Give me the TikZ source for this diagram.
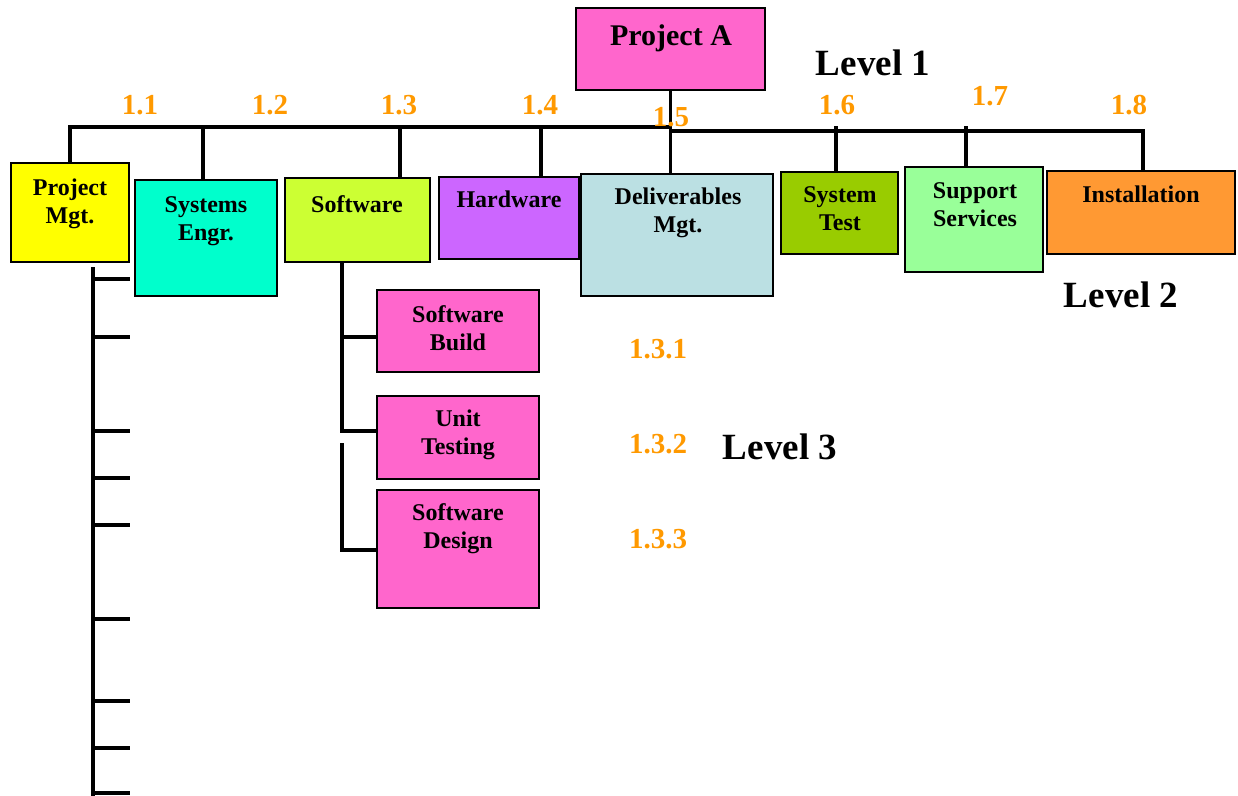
\documentclass[tikz,border=0pt]{standalone}
\usepackage{fontspec}
\setmainfont{Liberation Serif}
\definecolor{cPA}{HTML}{FF66CC}
\definecolor{cPM}{HTML}{FFFF00}
\definecolor{cSE}{HTML}{00FFCC}
\definecolor{cSW}{HTML}{CCFF33}
\definecolor{cHW}{HTML}{CC66FF}
\definecolor{cDM}{HTML}{BBE0E3}
\definecolor{cST}{HTML}{99CC00}
\definecolor{cSS}{HTML}{99FF99}
\definecolor{cIN}{HTML}{FF9933}
\definecolor{numorange}{HTML}{FF9900}
\begin{document}
\begin{tikzpicture}[x=1pt,y=-1pt,
  box/.style={draw=black, line width=1.8pt, anchor=north west, inner sep=0pt, outer sep=0pt},
  lbl/.style={font=\fontsize{24}{28}\selectfont\bfseries, align=center, inner sep=0pt, anchor=north},
  num/.style={font=\fontsize{29}{34}\selectfont\bfseries, text=numorange, inner sep=0pt, anchor=base},
  lvl/.style={font=\fontsize{37}{44}\selectfont\bfseries, inner sep=0pt, anchor=base},
  conn/.style={line width=3.2pt}]
\useasboundingbox (0,0) rectangle (1238,795);
% boxes
\node[box, fill=cPA, minimum width=189pt, minimum height=82pt] (pa) at (576,8) {};
\node[box, fill=cPM, minimum width=118pt, minimum height=99pt] (pm) at (11,163) {};
\node[box, fill=cSE, minimum width=142pt, minimum height=116pt] (se) at (135,180) {};
\node[box, fill=cSW, minimum width=145pt, minimum height=84pt] (sw) at (285,178) {};
\node[box, fill=cHW, minimum width=140pt, minimum height=82pt] (hw) at (439,177) {};
\node[box, fill=cDM, minimum width=192pt, minimum height=122pt] (dm) at (581,174) {};
\node[box, fill=cST, minimum width=117pt, minimum height=82pt] (st) at (781,172) {};
\node[box, fill=cSS, minimum width=138pt, minimum height=105pt] (ss) at (905,167) {};
\node[box, fill=cIN, minimum width=188pt, minimum height=83pt] (inst) at (1047,171) {};
\node[box, fill=cPA, minimum width=162pt, minimum height=82pt] (sb) at (377,290) {};
\node[box, fill=cPA, minimum width=162pt, minimum height=83pt] (ut) at (377,396) {};
\node[box, fill=cPA, minimum width=162pt, minimum height=118pt] (sd) at (377,490) {};
% level 1 -> level 2 connectors
\coordinate (jL) at (670.5,127);
\coordinate (jR) at (670.5,131);
\coordinate (d12) at (203,127);
\coordinate (d13) at (400,127);
\coordinate (d14) at (541,127);
\coordinate (d16) at (836,126);
\coordinate (d17) at (966,126);
\coordinate (d18) at (1143,131);
\draw[conn] (pm.north) |- (jL);
\draw[conn] (d12) -- (d12 |- se.north);
\draw[conn] (d13) -- (d13 |- sw.north);
\draw[conn] (d14) -- (d14 |- hw.north);
\draw[conn] (pa.south) -- (pa.south |- dm.north);
\draw[conn] (jR) -- (d18) -- (d18 |- inst.north);
\draw[conn] (d16) -- (d16 |- st.north);
\draw[conn] (d17) -- (d17 |- ss.north);
% level 3 connectors
\coordinate (b1) at (342,337);
\coordinate (b2) at (342,431);
\coordinate (b3t) at (342,443);
\coordinate (b3) at (342,550);
\draw[conn] (sw.south -| b1) -- (b2) -- (b2 -| ut.west);
\draw[conn] (b1) -- (b1 -| sb.west);
\draw[conn] (b3t) -- (b3) -- (b3 -| sd.west);
% project mgt tree
\coordinate (pmtop) at (93,267);
\coordinate (pmbot) at (93,796);
\draw[conn] (pmtop) -- (pmbot);
\foreach \yy [count=\i] in {279,337,431,478,525,619,701,748,793}{
  \coordinate (t\i) at (93,\yy);
  \draw[conn] (t\i) -- ++(37,0);
}
% box labels
\node[font=\fontsize{30}{34}\selectfont\bfseries, inner sep=0pt, anchor=base] (pa-t) at (671,45) {Project A};
\node[lbl] (pm-t) at (70,179) {Project\\Mgt.};
\node[lbl] (se-t) at (206,196) {Systems\\Engr.};
\node[lbl] (sw-t) at (357,195) {Software};
\node[lbl] (hw-t) at (509,191) {Hardware};
\node[lbl] (dm-t) at (678,188) {Deliverables\\Mgt.};
\node[lbl] (st-t) at (840,186) {System\\Test};
\node[lbl] (ss-t) at (975,182) {Support\\Services};
\node[lbl] (inst-t) at (1141,186) {Installation};
\node[lbl] (sb-t) at (458,305) {Software\\Build};
\node[lbl] (ut-t) at (458,410) {Unit\\Testing};
\node[lbl] (sd-t) at (458,503) {Software\\Design};
% numbers
\node[num] (n11) at (140,114) {1.1};
\node[num] (n12) at (270,114) {1.2};
\node[num] (n13) at (399,114) {1.3};
\node[num] (n14) at (540,114) {1.4};
\node[num] (n15) at (671,126) {1.5};
\node[num] (n16) at (837,114) {1.6};
\node[num] (n17) at (990,105) {1.7};
\node[num] (n18) at (1129,114) {1.8};
\node[num] (n131) at (658,358) {1.3.1};
\node[num] (n132) at (658,453) {1.3.2};
\node[num] (n133) at (658,548) {1.3.3};
% levels
\node[lvl] (lv1) at (873,75) {Level 1};
\node[lvl] (lv2) at (1121,307) {Level 2};
\node[lvl] (lv3) at (780,459) {Level 3};
\end{tikzpicture}
\end{document}
